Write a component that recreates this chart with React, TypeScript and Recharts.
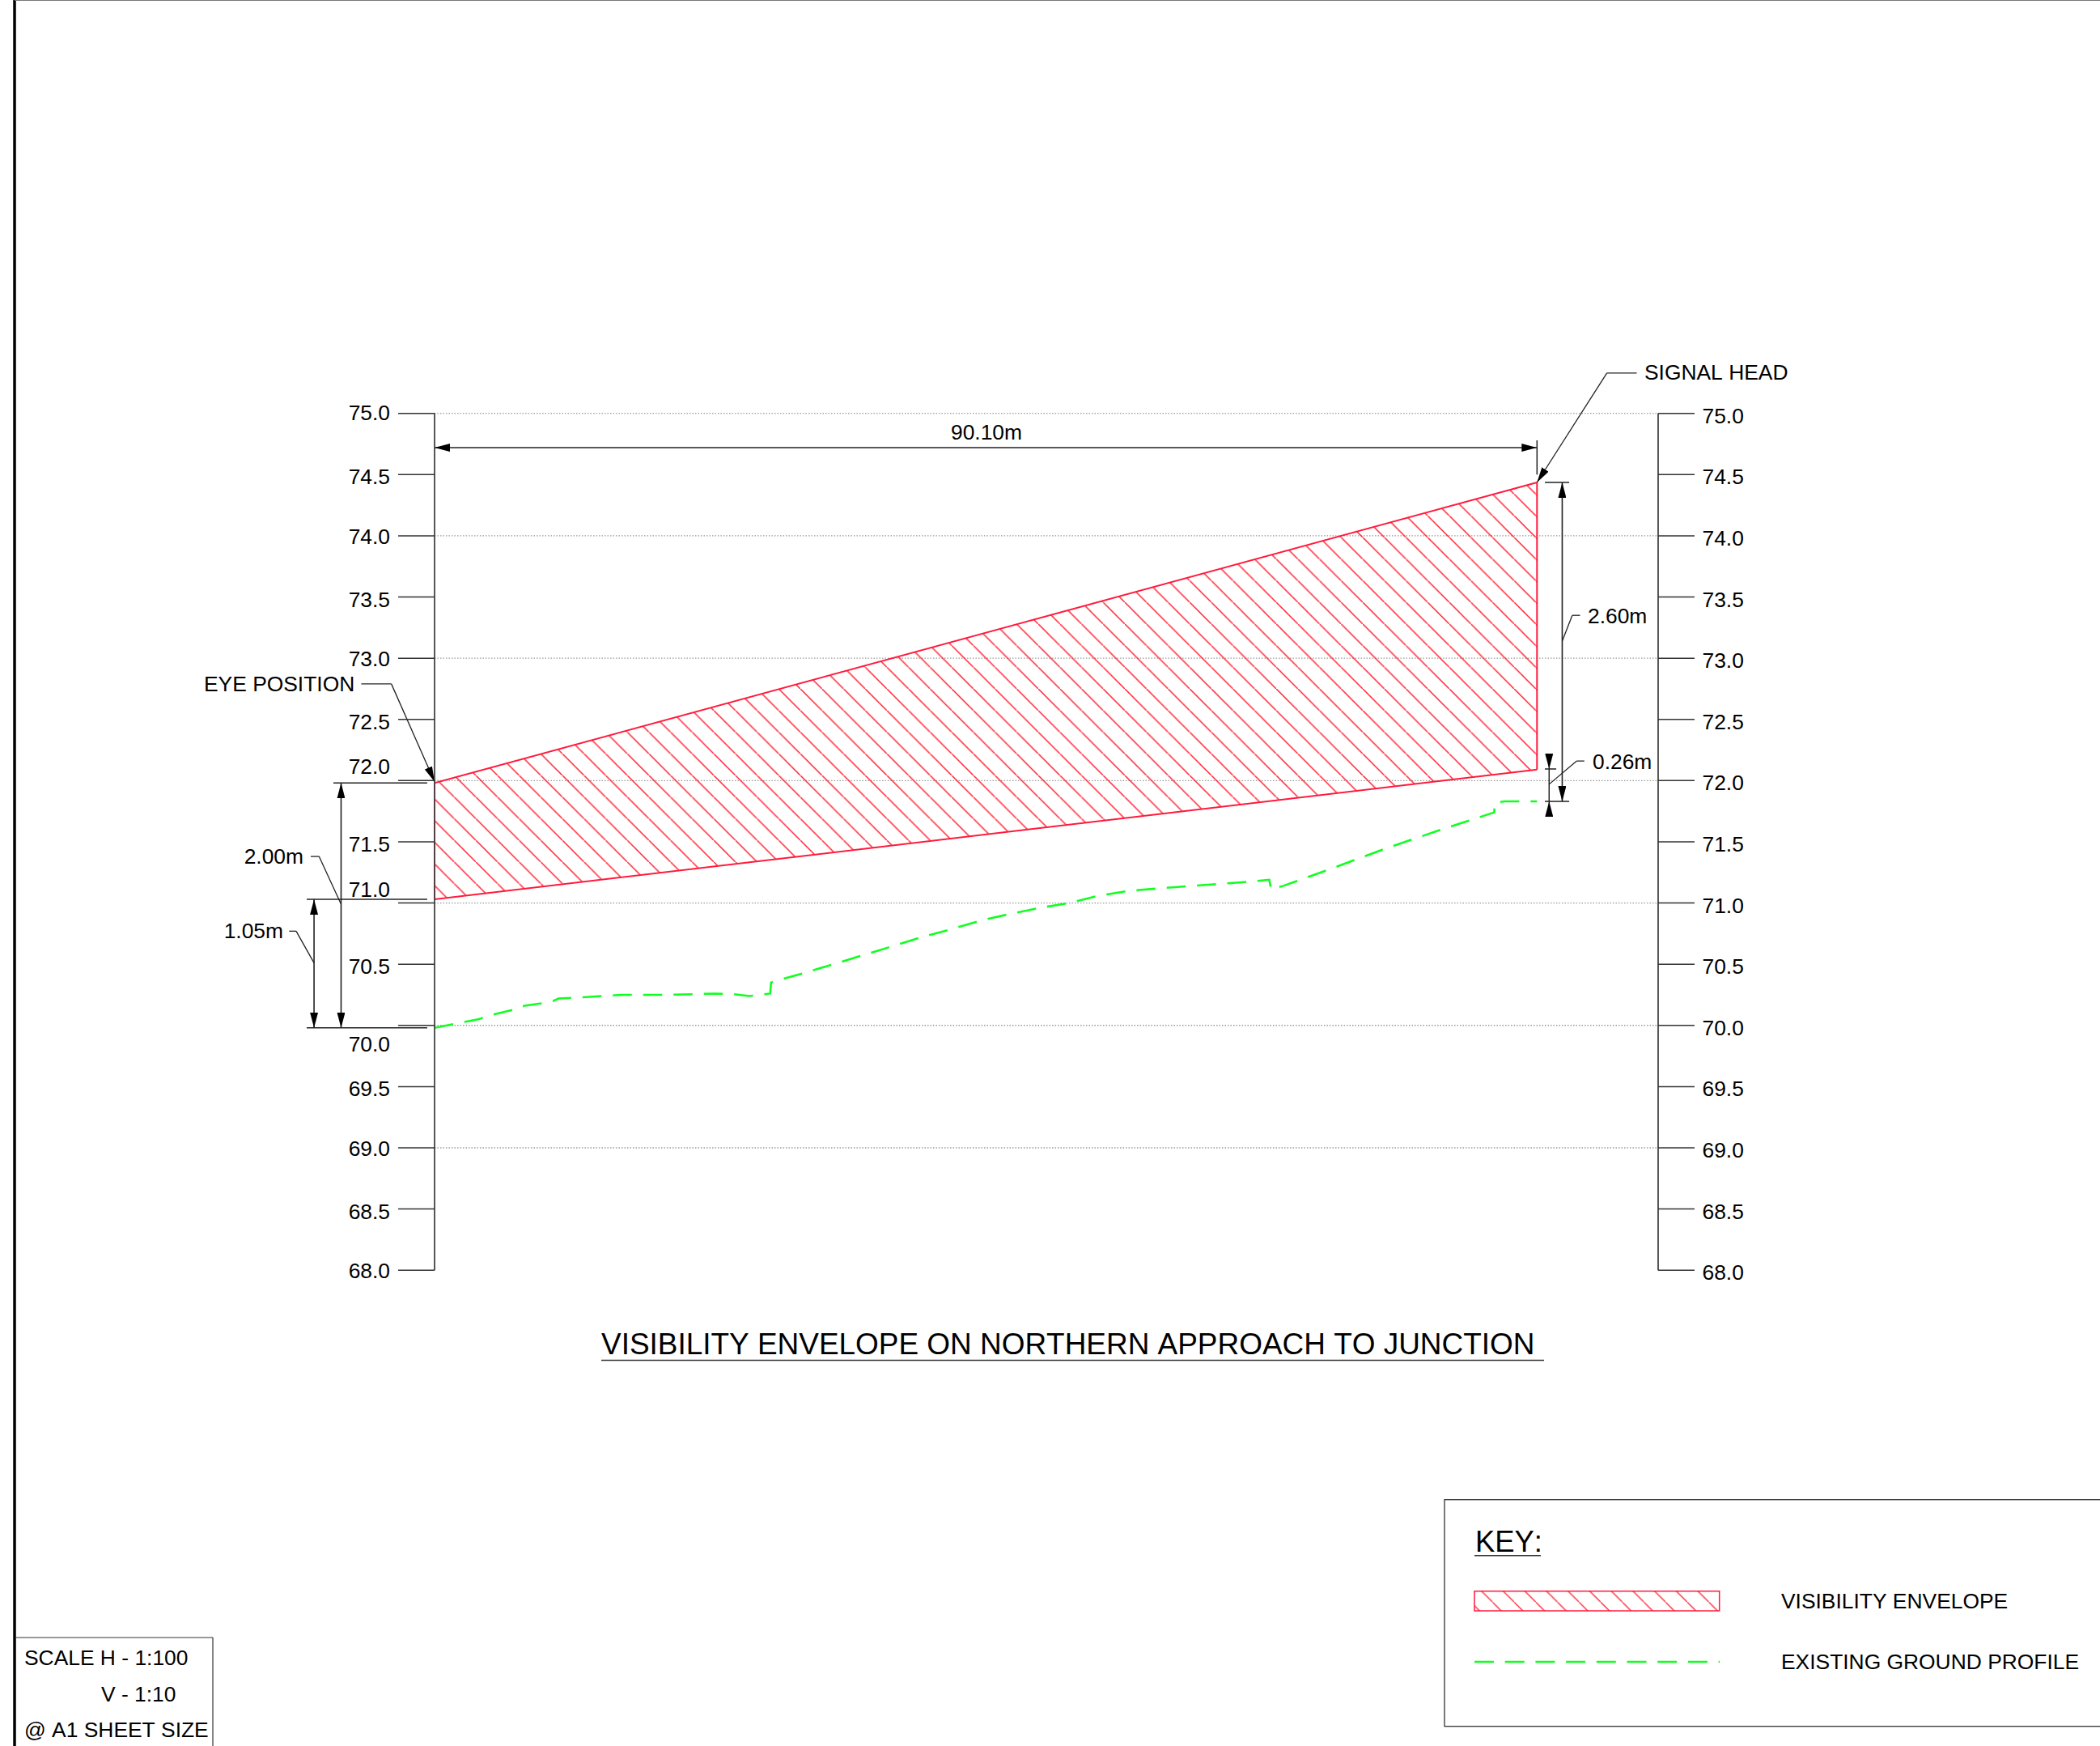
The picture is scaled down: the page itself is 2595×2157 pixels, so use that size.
import React from 'react';
import { ComposedChart, Area, Line, XAxis, YAxis, CartesianGrid, ReferenceLine } from 'recharts';

const levelTicks = [68, 68.5, 69, 69.5, 70, 70.5, 71, 71.5, 72, 72.5, 73, 73.5, 74, 74.5, 75];
const gridLevels = [69, 70, 71, 72, 73, 74, 75];

const envelopeChainage = [0, 90.1];
const envelopeLower = [71.03, 72.09];
const envelopeUpper = [71.98, 74.436];

const groundChainage = [0, 1.53, 3.56, 4.83, 6.34, 7.35, 8.75, 9.71, 10.14, 12.16, 15.33, 19.13, 22.92, 24.44, 25.71, 27.43, 27.5, 27.78, 30.26, 35.9, 39.77, 42.2, 44.58, 47.0, 49.47, 51.9, 54.3, 56.76, 59.28, 66.76, 68.22, 68.37, 69.36, 73.14, 77.86, 82.58, 86.6, 86.65, 87.43, 90.1];
const groundLevel = [69.98, 70.01, 70.05, 70.09, 70.126, 70.16, 70.18, 70.2, 70.22, 70.23, 70.25, 70.25, 70.26, 70.255, 70.24, 70.26, 70.35, 70.36, 70.43, 70.6, 70.72, 70.785, 70.855, 70.91, 70.96, 71.0, 71.06, 71.1, 71.12, 71.175, 71.19, 71.11, 71.14, 71.275, 71.45, 71.61, 71.74, 71.82, 71.83, 71.83];

// [x1, y1, x2, y2] in metres and level
const extensionLines = [
  [-8.27, 71.98, -0.6, 71.98],
  [-10.45, 71.03, -0.6, 71.03],
  [-10.45, 69.98, -0.6, 69.98],
  [90.1, 74.78, 90.1, 74.5],
  [90.74, 74.436, 92.73, 74.436],
  [90.74, 71.83, 92.73, 71.83],
  [90.74, 72.095, 91.67, 72.095],
  [91.09, 72.095, 91.09, 71.83],
];
const leaderLines = [
  [-5.99, 72.79, -3.53, 72.79],
  [-10.12, 71.38, -9.44, 71.38],
  [-9.44, 71.38, -7.64, 70.99],
  [-11.89, 70.77, -11.31, 70.77],
  [-11.31, 70.77, -9.85, 70.51],
  [98.25, 75.33, 95.81, 75.33],
  [93.62, 73.35, 92.98, 73.35],
  [92.98, 73.35, 92.16, 73.14],
  [93.97, 72.16, 93.33, 72.16],
  [93.33, 72.16, 91.09, 71.97],
];
const doubleArrows = [
  [0, 74.72, 90.1, 74.72],
  [-7.64, 71.98, -7.64, 69.98],
  [-9.85, 71.03, -9.85, 69.98],
  [92.16, 74.436, 92.16, 71.83],
];
const singleArrows = [
  [-3.53, 72.79, 0, 71.99],
  [95.81, 75.33, 90.1, 74.436],
  [91.09, 72.22, 91.09, 72.095],
  [91.09, 71.71, 91.09, 71.83],
];
const envelopeEdges = [
  [0, 71.03, 0, 71.98],
  [90.1, 72.09, 90.1, 74.436],
];

const envelopeRows = envelopeChainage.map((x, i) => ({ x, band: [envelopeLower[i], envelopeUpper[i]] }));
const groundRows = groundChainage.map((x, i) => ({ x, ground: groundLevel[i] }));

const FONT = '"Liberation Sans", Arial, sans-serif';
const TEXT_STYLE = { fontKerning: 'none' } as any;
const BASE = 26.4;
const RED = '#ff1a3c';
const HATCH = '#ff2030';
const GREEN = '#10ff20';
const AXIS = '#444444';

const leftShift = (v: number) => {
  if (v === 75) return -1;
  if (v === 72 || v === 71) return -17;
  if (v === 70) return 23;
  return Number.isInteger(v) ? 1 : 3;
};

const LeftTick = ({ x, y, payload }: any) => (
  <text x={x - 10} y={y + leftShift(payload.value)} textAnchor="end" dominantBaseline="central" fontFamily={FONT} fontSize={BASE} fill="#000" style={TEXT_STYLE}>
    {Number(payload.value).toFixed(1)}
  </text>
);
const RightTick = ({ x, y, payload }: any) => (
  <text x={x + 9.5} y={y + 3} textAnchor="start" dominantBaseline="central" fontFamily={FONT} fontSize={BASE} fill="#000" style={TEXT_STYLE}>
    {Number(payload.value).toFixed(1)}
  </text>
);

const Note = ({ x, y, anchor = 'start', size = BASE, children }: any) => (
  <text x={x} y={y} textAnchor={anchor} dominantBaseline="central" fontFamily={FONT} fontSize={size} fill="#000" style={TEXT_STYLE}>
    {children}
  </text>
);

const seg = (s: number[]) => [{ x: s[0], y: s[1] }, { x: s[2], y: s[3] }] as any;

export default function App() {
  return (
    <div style={{ position: 'absolute', left: 0, top: 0, width: 2595, height: 2157, background: '#fff' }}>
      <ComposedChart
        width={2595}
        height={2157}
        margin={{ left: 477, right: 486, top: 510.7, bottom: 587.8 }}
      >
        <defs>
          <pattern id="hatch" patternUnits="userSpaceOnUse" width={26.73} height={26.73} patternTransform="translate(0,22.4)">
            <path d="M-2,-2 L28.73,28.73" stroke={HATCH} strokeWidth={1.5} fill="none" />
          </pattern>
          <pattern id="hatchKey" patternUnits="userSpaceOnUse" width={26.73} height={26.73} patternTransform="translate(0,1.25)">
            <path d="M-2,-2 L28.73,28.73" stroke={HATCH} strokeWidth={1.3} fill="none" />
          </pattern>
          <marker id="arrowEnd" viewBox="0 0 19 10" refX={19} refY={5} markerWidth={19} markerHeight={10} markerUnits="userSpaceOnUse" orient="auto">
            <path d="M0,0 L19,5 L0,10 Z" fill="#000" />
          </marker>
          <marker id="arrowStart" viewBox="0 0 19 10" refX={0} refY={5} markerWidth={19} markerHeight={10} markerUnits="userSpaceOnUse" orient="auto">
            <path d="M19,0 L0,5 L19,10 Z" fill="#000" />
          </marker>
        </defs>

        <XAxis xAxisId="m" dataKey="x" type="number" domain={[0, 100]} hide allowDataOverflow />
        <YAxis
          yAxisId="left"
          orientation="left"
          width={60}
          type="number"
          domain={[68, 75]}
          ticks={levelTicks}
          interval={0}
          tickSize={45}
          tickMargin={0}
          tick={<LeftTick />}
          axisLine={{ stroke: AXIS, strokeWidth: 1.8 }}
          tickLine={{ stroke: '#333', strokeWidth: 1.5 }}
        />
        <YAxis
          yAxisId="right"
          orientation="right"
          width={60}
          type="number"
          domain={[68, 75]}
          ticks={levelTicks}
          interval={0}
          tickSize={45}
          tickMargin={0}
          tick={<RightTick />}
          axisLine={{ stroke: AXIS, strokeWidth: 1.8 }}
          tickLine={{ stroke: '#333', strokeWidth: 1.5 }}
        />
        <CartesianGrid
          xAxisId="m"
          yAxisId="left"
          vertical={false}
          horizontalValues={gridLevels}
          stroke="#9a9a9a"
          strokeWidth={1.3}
          strokeDasharray="1.5 2"
        />

        <Area
          xAxisId="m"
          yAxisId="left"
          data={envelopeRows}
          dataKey="band"
          name="VISIBILITY ENVELOPE"
          type="linear"
          stroke={RED}
          strokeWidth={2}
          fill="url(#hatch)"
          fillOpacity={1}
          dot={false}
          activeDot={false}
          isAnimationActive={false}
        />
        <Line
          xAxisId="m"
          yAxisId="right"
          data={groundRows}
          dataKey="ground"
          name="EXISTING GROUND PROFILE"
          type="linear"
          stroke={GREEN}
          strokeWidth={2.6}
          strokeDasharray="23.5 14"
          dot={false}
          activeDot={false}
          isAnimationActive={false}
        />

        {envelopeEdges.map((s, i) => (
          <ReferenceLine key={`edge${i}`} xAxisId="m" yAxisId="left" segment={seg(s)} ifOverflow="visible" stroke={RED} strokeWidth={2} />
        ))}
        {extensionLines.map((s, i) => (
          <ReferenceLine key={`ext${i}`} xAxisId="m" yAxisId="left" segment={seg(s)} ifOverflow="visible" stroke="#222" strokeWidth={1.5} />
        ))}
        {leaderLines.map((s, i) => (
          <ReferenceLine key={`lead${i}`} xAxisId="m" yAxisId="left" segment={seg(s)} ifOverflow="visible" stroke="#222" strokeWidth={1.3} />
        ))}
        {doubleArrows.map((s, i) => (
          <ReferenceLine key={`dbl${i}`} xAxisId="m" yAxisId="left" segment={seg(s)} ifOverflow="visible" stroke="#222" strokeWidth={1.6} markerStart="url(#arrowStart)" markerEnd="url(#arrowEnd)" />
        ))}
        {singleArrows.map((s, i) => (
          <ReferenceLine key={`sgl${i}`} xAxisId="m" yAxisId="left" segment={seg(s)} ifOverflow="visible" stroke="#222" strokeWidth={1.3} markerEnd="url(#arrowEnd)" />
        ))}

        {/* dimension text */}
        <Note x={252} y={845}>EYE POSITION</Note>
        <Note x={375} y={1058} anchor="end">2.00m</Note>
        <Note x={350} y={1150} anchor="end">1.05m</Note>
        <Note x={1219} y={534} anchor="middle">90.10m</Note>
        <Note x={2032} y={460}>SIGNAL HEAD</Note>
        <Note x={1962} y={761}>2.60m</Note>
        <Note x={1968} y={941}>0.26m</Note>

        {/* title */}
        <text x={743} y={1673} fontFamily={FONT} fontSize={36.95} fill="#000" style={TEXT_STYLE}>VISIBILITY ENVELOPE ON NORTHERN APPROACH TO JUNCTION</text>
        <line x1={743} y1={1680.5} x2={1908} y2={1680.5} stroke="#333" strokeWidth={1.5} />

        {/* sheet frame */}
        <line x1={18} y1={0} x2={18} y2={2157} stroke="#000" strokeWidth={3.5} />
        <line x1={18} y1={0.5} x2={2595} y2={0.5} stroke="#777" strokeWidth={1} />

        {/* scale box */}
        <line x1={20} y1={2023} x2={263} y2={2023} stroke="#333" strokeWidth={1.2} />
        <line x1={263} y1={2023} x2={263} y2={2157} stroke="#333" strokeWidth={1.2} />
        <Note x={30} y={2048}>SCALE H - 1:100</Note>
        <Note x={125} y={2093}>V - 1:10</Note>
        <Note x={30} y={2137}>@ A1 SHEET SIZE</Note>

        {/* key */}
        <rect x={1785} y={1852.7} width={815} height={280} fill="none" stroke="#333" strokeWidth={1.3} />
        <text x={1823} y={1917} fontFamily={FONT} fontSize={36.4} fill="#000" style={TEXT_STYLE}>KEY:</text>
        <line x1={1822} y1={1921.7} x2={1904} y2={1921.7} stroke="#333" strokeWidth={1.5} />
        <rect x={1822} y={1965.7} width={302.7} height={24.3} fill="url(#hatchKey)" stroke={RED} strokeWidth={1.5} />
        <line x1={1822} y1={2053} x2={2125} y2={2053} stroke={GREEN} strokeWidth={2.6} strokeDasharray="24 13.7" />
        <Note x={2201} y={1978}>VISIBILITY ENVELOPE</Note>
        <Note x={2201} y={2053}>EXISTING GROUND PROFILE</Note>
      </ComposedChart>
    </div>
  );
}
